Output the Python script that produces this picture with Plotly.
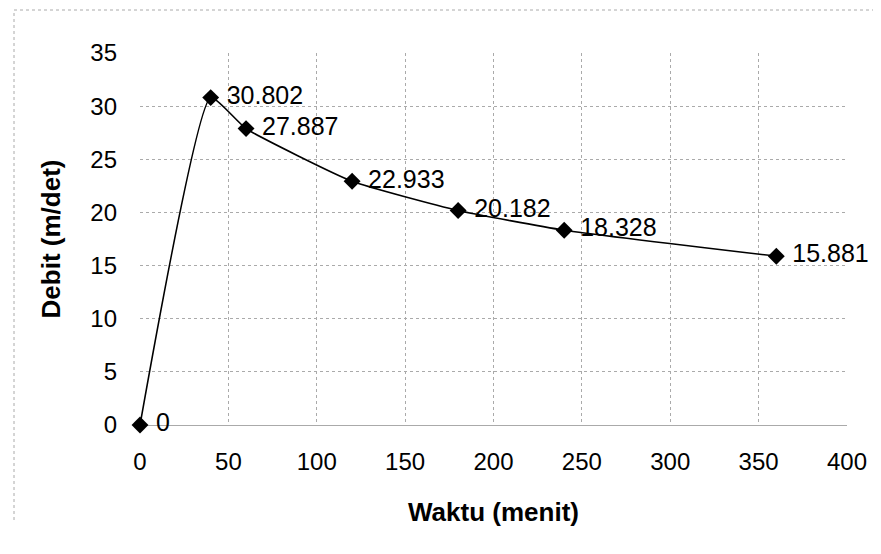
import plotly.graph_objects as go

waktu = [0, 40, 60, 120, 180, 240, 360]
debit = [0, 30.802, 27.887, 22.933, 20.182, 18.328, 15.881]
labels = ["0", "30.802", "27.887", "22.933", "20.182", "18.328", "15.881"]
x_ticks = [0, 50, 100, 150, 200, 250, 300, 350, 400]
y_ticks = [0, 5, 10, 15, 20, 25, 30, 35]

FONT = "Arial, 'Liberation Sans', sans-serif"

# page body has an 8px default margin, so the figure is drawn 8px smaller
W, H = 873, 546
L, R, T, B = 132, 34, 45, 129
pw, ph = W - L - R, H - T - B

fig = go.Figure()
fig.add_trace(go.Scatter(
    x=waktu, y=debit, mode="lines+markers",
    line=dict(color="black", width=1.6, shape="spline", smoothing=0.45),
    marker=dict(symbol="diamond", size=13, color="black"),
    cliponaxis=False, showlegend=False, hoverinfo="skip",
))
# data labels (transparent larger markers push the text further right)
fig.add_trace(go.Scatter(
    x=waktu, y=debit, mode="markers+text",
    text=labels, textposition="middle right",
    textfont=dict(family=FONT, size=25, color="black"),
    marker=dict(size=24, color="rgba(0,0,0,0)"),
    cliponaxis=False, showlegend=False,
))

grid = dict(showgrid=True, gridcolor="#aaaaaa", griddash="dot", gridwidth=1)

fig.update_xaxes(range=[0, 400], tickvals=x_ticks, ticktext=[str(v) for v in x_ticks],
                 tickfont=dict(family=FONT, size=24, color="black"),
                 title=dict(text="<b>Waktu (menit)</b>", font=dict(family=FONT, size=26, color="black"), standoff=28),
                 zeroline=False, showline=False, ticks="", ticklabelstandoff=20, **grid)
fig.update_yaxes(range=[0, 35], tickvals=y_ticks, ticktext=[str(v) for v in y_ticks],
                 tickfont=dict(family=FONT, size=24, color="black"),
                 title=dict(text="<b>Debit (m/det)</b>", font=dict(family=FONT, size=26, color="black"), standoff=22),
                 zeroline=True, zerolinecolor="#aaaaaa", zerolinewidth=1,
                 showline=False, ticks="", ticklabelstandoff=22, **grid)

# outer dotted frame (top and left edges visible in the reference)
x_left = (6 - L) / pw
y_top = (H - B - 2) / ph
x_right = (W - 1 - L) / pw
y_bot = (H - B - 512) / ph
fig.add_shape(type="line", xref="paper", yref="paper", x0=x_left, x1=x_right, y0=y_top, y1=y_top,
              line=dict(color="#aaaaaa", width=1, dash="dot"))
fig.add_shape(type="line", xref="paper", yref="paper", x0=x_left, x1=x_left, y0=y_bot, y1=y_top,
              line=dict(color="#aaaaaa", width=1, dash="dot"))

fig.update_layout(width=W, height=H, margin=dict(l=L, r=R, t=T, b=B),
                  paper_bgcolor="white", plot_bgcolor="white",
                  font=dict(family=FONT, color="black"))

fig.write_html("out.html")
